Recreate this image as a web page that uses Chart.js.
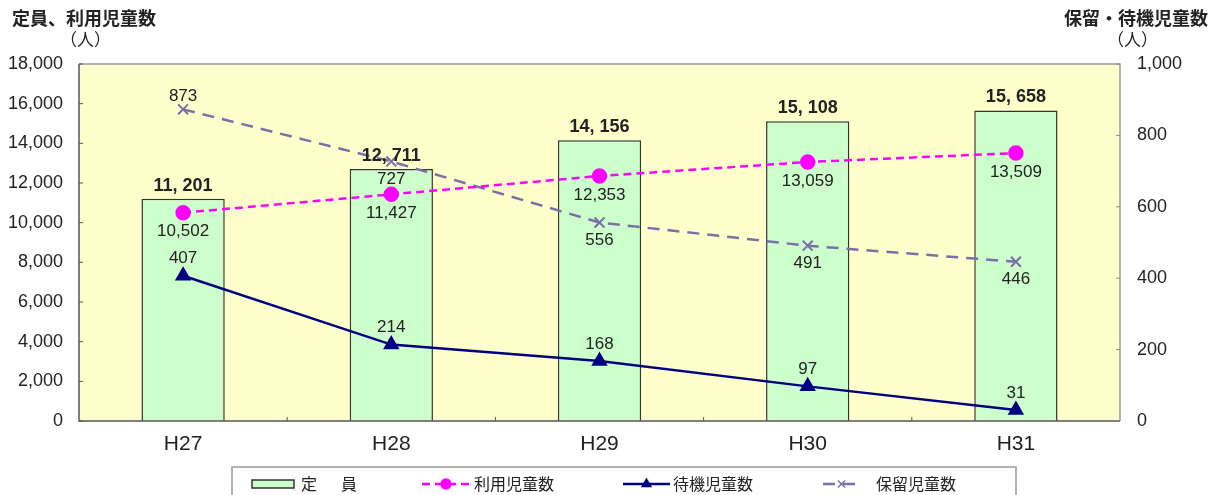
<!DOCTYPE html>
<html>
<head>
<meta charset="utf-8">
<script src="https://cdn.jsdelivr.net/npm/chart.js@4"></script>
<style>
  html, body { margin: 0; padding: 0; background: #fff; }
  #wrap { width: 1220px; height: 495px; }
</style>
</head>
<body>
<div id="wrap"><canvas id="chart" width="1220" height="495"></canvas></div>
<script>
// data
var years = ['H27', 'H28', 'H29', 'H30', 'H31'];
var teiin = [11201, 12711, 14156, 15108, 15658];      // 定員
var riyou = [10502, 11427, 12353, 13059, 13509];      // 利用児童数
var taiki = [407, 214, 168, 97, 31];                  // 待機児童数
var horyu = [873, 727, 556, 491, 446];                // 保留児童数
var leftTicks = [0, 18000, 2000];
var rightTicks = [0, 1000, 200];

var jp = '"Noto Sans CJK JP", "Noto Sans", sans-serif';
var num = '"Liberation Sans", Arial, sans-serif';

// where each series puts its labels (style, not data)
var labelPos = {
  bar:   { dy: -13 },
  riyou: { dy: 19 },
  taiki: { dy: -17 },
  horyu: { dy: [-13, 18, 18, 18, 18] }
};

function fmt(v) { return v.toLocaleString('en-US'); }

var extras = {
  id: 'extras',
  beforeDraw: function(chart) {
    var a = chart.chartArea, ctx = chart.ctx;
    ctx.save();
    ctx.fillStyle = '#FFFFCC';
    ctx.fillRect(a.left, a.top, a.right - a.left, a.bottom - a.top);
    ctx.restore();
  },
  afterDatasetsDraw: function(chart) {
    var ctx = chart.ctx, a = chart.chartArea;
    ctx.save();
    ctx.textAlign = 'center';
    ctx.textBaseline = 'middle';
    ctx.fillStyle = '#222';
    chart.data.datasets.forEach(function(ds, di) {
      var meta = chart.getDatasetMeta(di);
      var pos = labelPos[ds.key];
      meta.data.forEach(function(el, i) {
        var v = ds.data[i];
        var dy = Array.isArray(pos.dy) ? pos.dy[i] : pos.dy;
        var txt;
        if (ds.key === 'bar') {
          ctx.font = 'bold 18px ' + num;
          txt = fmt(v).replace(',', ', ');
        } else {
          ctx.font = '17px ' + num;
          txt = fmt(v);
        }
        ctx.fillText(txt, el.x, el.y + dy);
      });
    });

    // frame
    ctx.lineWidth = 1.5;
    ctx.strokeStyle = '#999';
    ctx.beginPath();
    ctx.moveTo(a.left, a.top); ctx.lineTo(a.right, a.top); ctx.lineTo(a.right, a.bottom);
    ctx.stroke();
    ctx.strokeStyle = '#555';
    ctx.beginPath();
    ctx.moveTo(a.left, a.top); ctx.lineTo(a.left, a.bottom); ctx.lineTo(a.right, a.bottom);
    ctx.stroke();

    // inward tick marks
    ctx.lineWidth = 1;
    var yl = chart.scales.y, yr = chart.scales.y1, xs = chart.scales.x;
    yl.ticks.forEach(function(t) {
      var y = yl.getPixelForValue(t.value);
      ctx.strokeStyle = '#555';
      ctx.beginPath(); ctx.moveTo(a.left, y); ctx.lineTo(a.left + 4, y); ctx.stroke();
    });
    yr.ticks.forEach(function(t) {
      var y = yr.getPixelForValue(t.value);
      ctx.strokeStyle = '#888';
      ctx.beginPath(); ctx.moveTo(a.right, y); ctx.lineTo(a.right - 4, y); ctx.stroke();
    });
    for (var i = 1; i < years.length; i++) {
      var x = (xs.getPixelForValue(i - 1) + xs.getPixelForValue(i)) / 2;
      ctx.strokeStyle = '#555';
      ctx.beginPath(); ctx.moveTo(x, a.bottom); ctx.lineTo(x, a.bottom - 4); ctx.stroke();
    }
    ctx.restore();
  },
  afterDraw: function(chart) {
    var ctx = chart.ctx;
    ctx.save();
    ctx.fillStyle = '#222';
    ctx.textBaseline = 'middle';
    ctx.font = 'bold 18px ' + jp;
    ctx.textAlign = 'left';
    ctx.fillText('定員、利用児童数', 12, 18);
    ctx.font = '17px ' + jp;
    ctx.fillText('（人）', 60, 40);
    ctx.font = 'bold 18px ' + jp;
    ctx.textAlign = 'right';
    ctx.fillText('保留・待機児童数', 1208, 18);
    ctx.font = '17px ' + jp;
    ctx.fillText('（人）', 1158, 40);

    // legend box
    ctx.strokeStyle = '#999';
    ctx.lineWidth = 1.5;
    ctx.strokeRect(232, 467, 784, 40);
    var ly = 484;
    ctx.textAlign = 'left';
    ctx.font = '16px ' + jp;
    // 定員
    ctx.fillStyle = '#CCFFCC';
    ctx.fillRect(252, ly - 4, 42, 8);
    ctx.strokeStyle = '#333'; ctx.lineWidth = 1.5;
    ctx.strokeRect(252, ly - 4, 42, 8);
    ctx.fillStyle = '#222';
    ctx.fillText('定', 301, ly);
    ctx.fillText('員', 341, ly);
    var ds = chart.data.datasets;
    function lineSample(x0, x1, d) {
      ctx.save();
      ctx.strokeStyle = d.borderColor; ctx.lineWidth = 2.5;
      ctx.setLineDash(d.borderDash || []);
      ctx.beginPath(); ctx.moveTo(x0, ly); ctx.lineTo(x1, ly); ctx.stroke();
      ctx.restore();
      Chart.helpers.drawPoint(ctx, {pointStyle: d.pointStyle, radius: 5, borderWidth: d.pointBorderWidth || 1}, (x0 + x1) / 2, ly);
    }
    // 利用児童数
    ctx.save(); ctx.fillStyle = ds[1].borderColor; ctx.strokeStyle = ds[1].borderColor;
    lineSample(422, 470, ds[1]);
    ctx.restore();
    ctx.fillStyle = '#222';
    ctx.fillText('利用児童数', 474, ly);
    // 待機児童数
    ctx.save(); ctx.fillStyle = ds[2].borderColor; ctx.strokeStyle = ds[2].borderColor;
    lineSample(623, 670, ds[2]);
    ctx.restore();
    ctx.fillStyle = '#222';
    ctx.fillText('待機児童数', 673, ly);
    // 保留児童数
    ctx.save(); ctx.fillStyle = ds[3].borderColor; ctx.strokeStyle = ds[3].borderColor;
    lineSample(823, 860, ds[3]);
    ctx.restore();
    ctx.fillStyle = '#222';
    ctx.fillText('保留児童数', 876, ly);
    ctx.restore();
  }
};

var chartdata = {
  labels: years,
  datasets: [
    {
      key: 'bar', type: 'bar', label: '定　員', data: teiin, yAxisID: 'y',
      backgroundColor: '#CCFFCC', borderColor: '#333', borderWidth: 1.5,
      barPercentage: 0.4, categoryPercentage: 1, order: 4
    },
    {
      key: 'riyou', type: 'line', label: '利用児童数', data: riyou, yAxisID: 'y',
      borderColor: '#FF00FF', borderWidth: 2.5, borderDash: [8, 5],
      pointStyle: 'circle', pointRadius: 6.5, pointBackgroundColor: '#FF00FF',
      pointBorderColor: '#FF00FF', order: 2
    },
    {
      key: 'taiki', type: 'line', label: '待機児童数', data: taiki, yAxisID: 'y1',
      borderColor: '#000080', borderWidth: 2.5,
      pointStyle: 'triangle', pointRadius: 7, pointBackgroundColor: '#000080',
      pointBorderColor: '#000080', order: 1
    },
    {
      key: 'horyu', type: 'line', label: '保留児童数', data: horyu, yAxisID: 'y1',
      borderColor: '#7B6FA8', borderWidth: 2.5, borderDash: [12, 8],
      pointStyle: 'crossRot', pointRadius: 7, pointBorderWidth: 2,
      pointBackgroundColor: '#7B6FA8', pointBorderColor: '#7B6FA8', order: 3
    }
  ]
};

var ctx = document.getElementById('chart');
var chart = new Chart(ctx, {
  data: chartdata,
  plugins: [extras],
  options: {
    responsive: false,
    animation: false,
    layout: { padding: { top: 64, bottom: 34, left: 0, right: 0 } },
    plugins: { legend: { display: false }, tooltip: { enabled: false } },
    scales: {
      x: {
        grid: { display: false, drawTicks: false },
        border: { display: false },
        ticks: { color: '#222', font: { family: num, size: 21 }, padding: 11 },
        afterFit: function(s) { s.height = 40; }
      },
      y: {
        position: 'left', min: leftTicks[0], max: leftTicks[1],
        grid: { display: false, drawTicks: false },
        border: { display: false },
        ticks: { stepSize: leftTicks[2], color: '#222', padding: 16,
                 font: { family: num, size: 18 },
                 callback: function(v) { return fmt(v); } },
        afterFit: function(s) { s.width = 79; }
      },
      y1: {
        position: 'right', min: rightTicks[0], max: rightTicks[1],
        grid: { display: false, drawTicks: false },
        border: { display: false },
        ticks: { stepSize: rightTicks[2], color: '#222', padding: 17,
                 font: { family: num, size: 18 },
                 callback: function(v) { return fmt(v); } },
        afterFit: function(s) { s.width = 100; }
      }
    }
  }
});
</script>
</body>
</html>
